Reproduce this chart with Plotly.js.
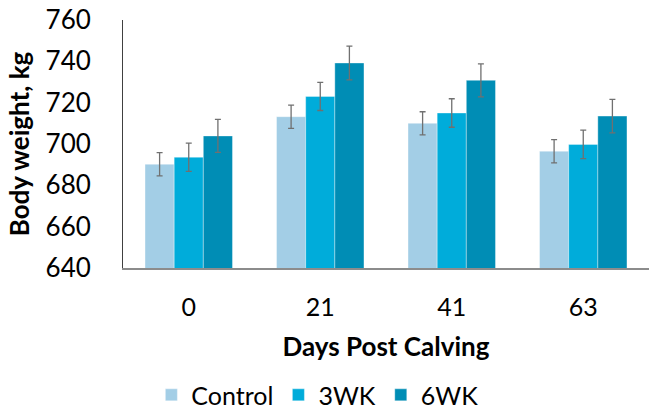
<!DOCTYPE html>
<html>
<head>
<meta charset="utf-8">
<script src="https://cdn.plot.ly/plotly-3.0.1.min.js"></script>
<style>html,body{margin:0;padding:0;background:#fff;}#chart{width:649px;height:409px;}</style>
</head>
<body>
<div id="chart"></div>
<script>
const days = ["0", "21", "41", "63"];
const controlValues = [690.2, 713.2, 710.0, 696.5];
const wk3Values = [693.6, 723.0, 715.0, 699.8];
const wk6Values = [703.9, 739.2, 730.8, 713.5];
const controlErr = [5.6, 5.6, 5.6, 5.6];
const wk3Err = [6.8, 6.8, 6.9, 6.9];
const wk6Err = [8.0, 8.2, 8.0, 8.1];
const seriesNames = ["Control", "3WK", "6WK"];
const colors = ["#A3CEE6", "#00ACDA", "#008DB5"];
const yTicks = [640, 660, 680, 700, 720, 740, 760];

const FONT = "Lato, 'Open Sans', sans-serif";
const vals = [controlValues, wk3Values, wk6Values];
const errs = [controlErr, wk3Err, wk6Err];

const traces = vals.map((v, i) => ({
  type: "bar",
  name: seriesNames[i],
  x: days,
  y: v,
  marker: {color: colors[i], line: {color: "rgba(255,255,255,0.35)", width: 1}},
  error_y: {type: "data", array: errs[i], visible: true, color: "#707070", thickness: 1.3, width: 3}
}));

const layout = {
  width: 649, height: 409,
  margin: {l: 123, r: 0, t: 20, b: 141},
  paper_bgcolor: "#fff", plot_bgcolor: "#fff",
  barmode: "group",
  bargap: 0.335, bargroupgap: 0,
  showlegend: true,
  legend: {orientation: "h", xref: "container", yref: "container",
    x: 0.489, xanchor: "center", y: 0.034, yanchor: "middle",
    font: {family: FONT, size: 25, color: "#000"}, traceorder: "normal"},
  xaxis: {
    type: "category", automargin: false,
    showline: true, linecolor: "#8c8c8c", linewidth: 1.5,
    ticks: "", showgrid: false, zeroline: false,
    tickfont: {family: FONT, size: 25, color: "#000"},
    ticklabelstandoff: 16,
    title: {text: "<b>Days Post Calving</b>", font: {family: FONT, size: 26, color: "#000"}, standoff: 18}
  },
  yaxis: {
    range: [640, 760], automargin: false,
    tickmode: "array",
    tickvals: yTicks,
    ticktext: yTicks.map(String),
    showline: true, linecolor: "#404040", linewidth: 1,
    showgrid: false, zeroline: false, ticks: "",
    tickfont: {family: FONT, size: 26, color: "#000"},
    ticklabelstandoff: 26,
    title: {text: "<b>Body weight, kg</b>", font: {family: FONT, size: 26, color: "#000"}, standoff: 8}
  }
};

Plotly.newPlot("chart", traces, layout, {staticPlot: true, displayModeBar: false});
</script>
</body>
</html>
